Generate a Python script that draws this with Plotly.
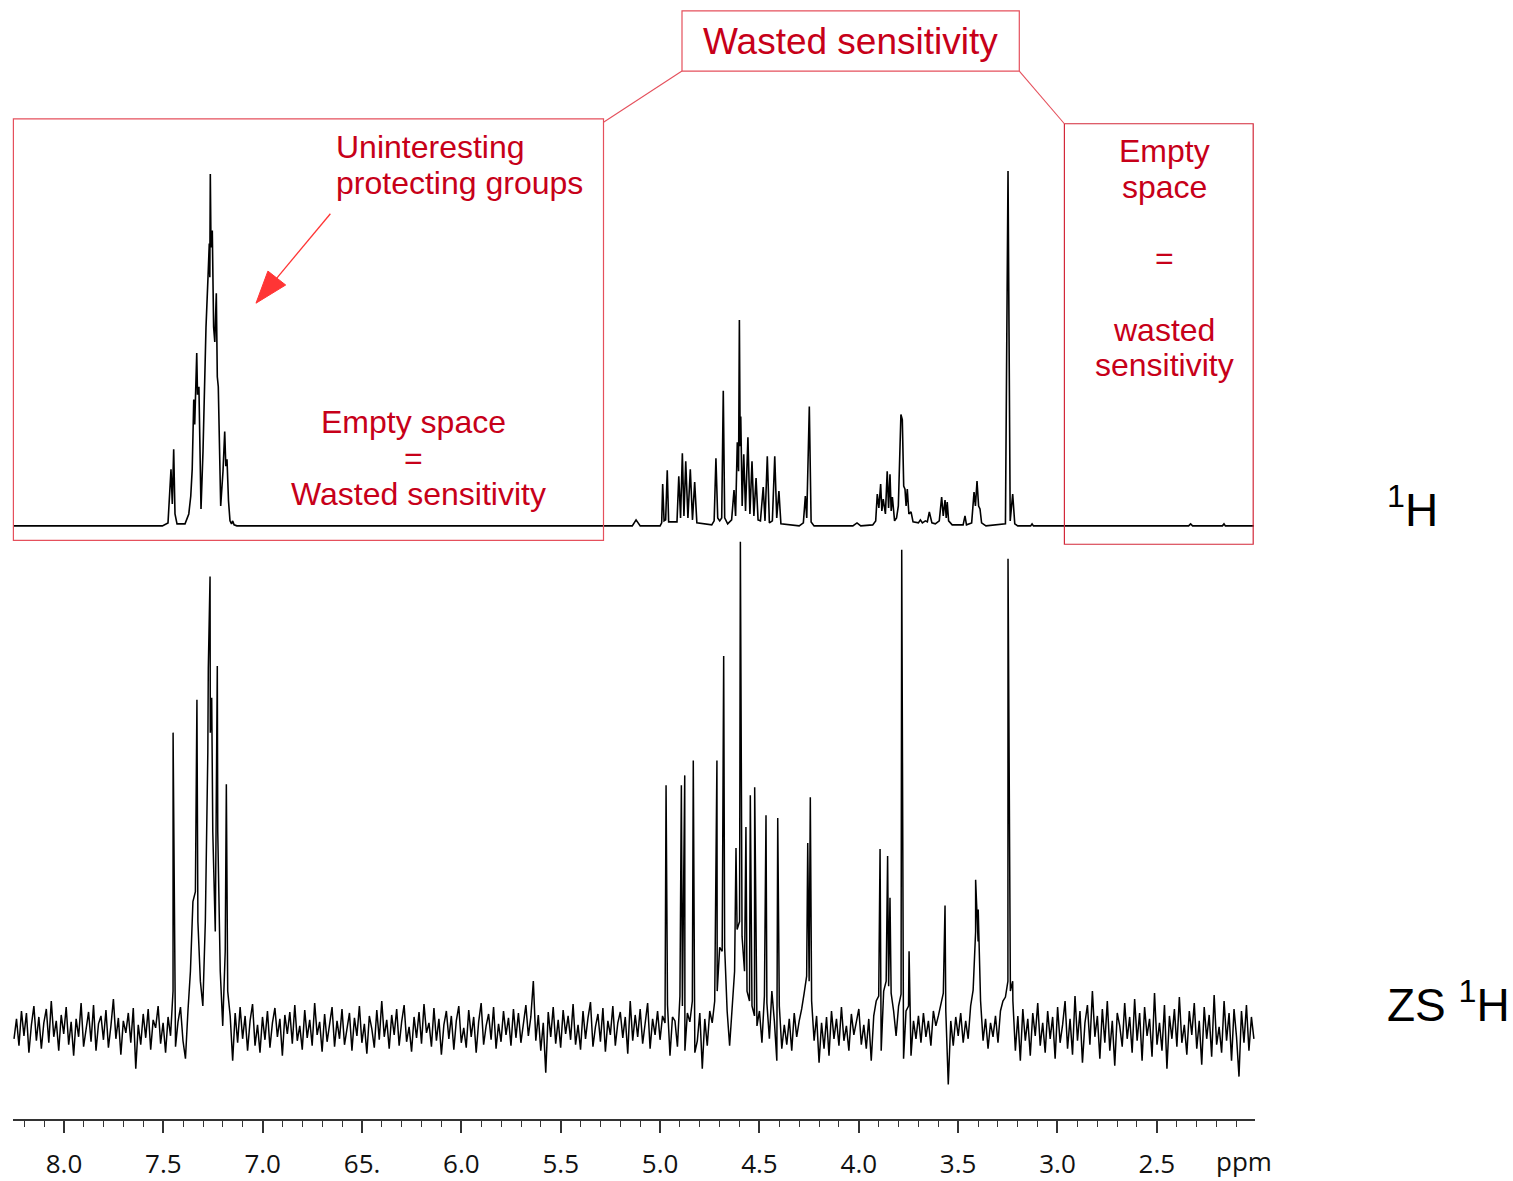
import numpy as np
import plotly.graph_objects as go

W, H = 1513, 1181

# ---------------- data ----------------
# 1H spectrum: line vertices (chemical shift in ppm, intensity)
h1_points = [
    (8.2516, 0), (7.505, 0), (7.4766, 3), (7.4615, 57), (7.455, 22), (7.448, 77), (7.4414, 12),
    (7.4313, 2), (7.391, 2), (7.372, 12), (7.362, 30), (7.3548, 57), (7.347, 127), (7.3422, 102),
    (7.332, 174), (7.3281, 132), (7.321, 140), (7.3155, 77), (7.3105, 17), (7.3004, 75),
    (7.2854, 200), (7.2753, 250), (7.2688, 284), (7.2662, 250), (7.2637, 354), (7.2602, 280),
    (7.2537, 297), (7.2471, 200), (7.2411, 185), (7.2335, 234), (7.2285, 150), (7.2235, 140),
    (7.2179, 75), (7.2114, 20), (7.1998, 55), (7.1912, 95), (7.1857, 60), (7.1797, 67),
    (7.1721, 25), (7.1646, 5), (7.157, 2), (7.151, 5), (7.144, 1), (7.13, 0),
    (5.14, 0), (5.121, 6), (5.10, 0),
    (5.00, 0), (4.992, 3), (4.987, 42), (4.980, 5), (4.972, 6), (4.964, 56), (4.957, 4),
    (4.915, 4), (4.906, 50), (4.897, 8), (4.888, 73), (4.880, 10), (4.871, 65), (4.860, 8),
    (4.848, 57), (4.837, 6), (4.826, 44), (4.815, 3), (4.740, 1), (4.728, 5), (4.719, 68),
    (4.710, 8), (4.700, 5), (4.690, 8), (4.682, 136), (4.675, 8), (4.660, 2), (4.640, 6),
    (4.628, 36), (4.620, 10), (4.6115, 84), (4.605, 55), (4.601, 207), (4.597, 80), (4.594, 110),
    (4.587, 20), (4.579, 72), (4.570, 15), (4.558, 89), (4.548, 12), (4.5375, 65), (4.528, 10),
    (4.517, 48), (4.507, 6), (4.495, 5), (4.481, 39), (4.472, 5), (4.4605, 70), (4.450, 3),
    (4.435, 5), (4.423, 70), (4.413, 8), (4.402, 35), (4.392, 2), (4.300, 0), (4.279, 3),
    (4.269, 30), (4.262, 8), (4.249, 120), (4.240, 4), (4.225, 0),
    (4.030, 0), (4.009, 3), (3.990, 0), (3.930, 1), (3.915, 5), (3.907, 32), (3.899, 18),
    (3.890, 42), (3.884, 15), (3.877, 27), (3.866, 12), (3.857, 55), (3.850, 18), (3.843, 52),
    (3.837, 15), (3.831, 29), (3.820, 5), (3.810, 8), (3.801, 20), (3.788, 112), (3.781, 107),
    (3.774, 40), (3.7675, 37), (3.762, 20), (3.756, 37), (3.748, 12), (3.737, 14), (3.727, 4),
    (3.700, 3), (3.690, 6), (3.680, 3), (3.665, 5), (3.655, 4), (3.645, 14), (3.632, 3),
    (3.615, 2), (3.595, 5), (3.583, 29), (3.575, 10), (3.566, 26), (3.560, 8), (3.555, 24),
    (3.548, 5), (3.530, 1), (3.475, 1), (3.4655, 10), (3.458, 1), (3.432, 3), (3.420, 34),
    (3.413, 20), (3.405, 45), (3.397, 20), (3.390, 17), (3.382, 3), (3.360, 0), (3.262, 2),
    (3.249, 357), (3.238, 5), (3.2255, 32), (3.215, 2), (3.200, 0), (3.135, 0), (3.128, 2),
    (3.121, 0), (2.34, 0), (2.33, 2), (2.32, 0), (2.17, 0), (2.162, 2), (2.155, 0), (2.0115, 0),
]

# ZS 1H spectrum: baseline samples (evenly spaced over the window, left to right)
zs_baseline = [
    -8, 12, -15, 20, -5, 18, -22, 6, 25, -10, 14, -18, 8, 22, -12, 30, -6, 10, -20, 16, -3, 24, -14, 9, -25,
    12, -6, 28, -16, 4, 19, -11, 26, -20, 7, 15, -9, 21, -17, 5, 32, -8, 13, -24, 10, -2, 18, -12, 23, -38,
    6, -14, 17, -7, 22, -19, 11, 3, 25, -13, 8, -22, 14, -5, 40, -16, 9, 24, -10, -28, 20, 60, 130, 140, 110,
    50, 25, 110, 280, 300, 200, 100, 200, 60, 5, 80, 40, 15, -30, 18, -12, 24, -8, 15, -20, 10, 27, -15, 6, -22,
    14, -9, 20, -17, 8, 23, -6, 12, -25, 16, -3, 19, -13, 26, -10, 5, -19, 21, -7, 11, -15, 28, -4, 9, -21,
    17, -11, 6, 24, -16, 10, -8, 22, -14, 3, 18, -20, 13, -5, 25, -12, 7, -23, 15, 2, -17, 21, -9, 30, -6,
    11, -18, 16, -4, 22, -15, 9, 26, -11, 4, -21, 14, -7, 19, -13, 27, -2, 8, -16, 23, -10, 12, -24, 6, 20,
    -8, 15, -19, 10, 25, -12, 3, -17, 21, -6, 14, -22, 9, 28, -14, 5, 17, -9, 24, -18, 7, -11, 20, -4, 13,
    -15, 22, -7, 18, -12, 9, 26, -5, 14, 50, -10, 16, -20, 8, -42, 19, -6, 24, -13, 11, -17, 21, -3, 15, -9,
    27, -14, 6, -19, 20, -8, 13, 29, -16, 4, 17, -11, 23, -21, 10, -4, 25, -15, 8, 19, -7, 14, -23, 30, -10,
    16, -6, 22, -13, 9, 28, -18, 12, -4, 20, -9, 15, 8, 26, -25, 14, 10, -16, 35, 25, -20, 18, 9, 30, -22,
    -10, 18, -38, 12, -15, 20, 8, 30, 40, 84, 80, 84, 20, -15, 20, 60, 102, 110, 95, 60, 40, 30, 25, 15, 5,
    20, -12, 35, 28, -8, 40, 10, -30, 25, -18, 6, -14, 12, -20, 18, -6, 10, 22, 38, 55, 50, 30, -10, 15, -32,
    8, -18, 14, -25, 20, -8, 12, -15, 24, -10, 5, -20, 17, -4, 10, 22, -14, 6, -18, 12, -30, 15, 30, 35, -20,
    40, 50, 45, 38, 20, -5, 25, 37, -28, 20, 25, -25, 10, -8, 15, -12, 18, -6, 10, -15, 20, 5, 15, 25, 38,
    20, -54, 10, -15, 14, -5, 18, -12, 10, -8, 25, 41, 100, 90, 30, -10, 12, -18, 8, -6, 15, -12, 20, 30, 34,
    50, 40, 30, -20, 15, -30, 22, -10, 12, -25, 18, -5, 28, -15, 8, -22, 20, -8, 14, -28, 24, -12, 6, 30, -18,
    12, -24, 35, -10, 20, -32, 8, 26, -14, 40, -6, 15, -28, 22, -12, 30, -20, 10, -35, 18, 5, -16, 28, -8, 14,
    -22, 32, -10, 18, -30, 24, -5, 12, -26, 38, -14, 8, -20, 26, -38, 15, -8, 22, -16, 34, -12, 6, -24, 20, -4,
    28, -18, 10, -34, 24, -8, 16, -26, 36, -14, 4, -22, 30, -10, 18, -30, 22, -6, -46, 20, -12, 26, -20, 14, -8,
]
ZS_WINDOW = (8.2516, 2.0115)

# ZS 1H spectrum: resolved singlets (ppm, intensity)
zs_peaks = [
    (7.451, 300), (7.331, 333), (7.2738, 365), (7.265, 457), (7.2567, 335), (7.2285, 367), (7.183, 248),
    (4.970, 247), (4.893, 247), (4.876, 257), (4.833, 272), (4.714, 272), (4.680, 377), (4.618, 184),
    (4.596, 492), (4.568, 205), (4.546, 237), (4.524, 245), (4.467, 217), (4.408, 214), (4.257, 189),
    (4.244, 235),
    (3.893, 183), (3.855, 176), (3.843, 134), (3.784, 484), (3.747, 80), (3.566, 126), (3.412, 152),
    (3.399, 122), (3.249, 475), (3.2255, 50),
]

tick_vals = [8.0, 7.5, 7.0, 6.5, 6.0, 5.5, 5.0, 4.5, 4.0, 3.5, 3.0, 2.5]
tick_text = ["8.0", "7.5", "7.0", "65.", "6.0", "5.5", "5.0", "4.5", "4.0", "3.5", "3.0", "2.5"]

# ---------------- styling ----------------
TEXT_RED = "#c70019"
BOX_RED = "#e5505c"
BOX_RED_DARK = "#d3283a"
ARROW_RED = "#ff3535"
TXT_FONT = "Liberation Sans, Arial, sans-serif"
AXIS_FONT = "Open Sans, Noto Sans, sans-serif"
TOP_OFFSET = 508          # vertical stacking offset of the 1H trace

# ---------------- traces ----------------
h1_x = [p for p, _ in h1_points]
h1_y = [v + TOP_OFFSET for _, v in h1_points]

zs_grid = np.linspace(ZS_WINDOW[0], ZS_WINDOW[1], len(zs_baseline))
zs_x = np.concatenate([zs_grid, [p for p, _ in zs_peaks]])
zs_y = np.concatenate([np.asarray(zs_baseline, float), [v for _, v in zs_peaks]])
order = np.argsort(-zs_x, kind="stable")
zs_x, zs_y = zs_x[order], zs_y[order]

fig = go.Figure()
fig.add_trace(go.Scatter(x=zs_x, y=zs_y, mode="lines",
                         line=dict(color="black", width=1.5), hoverinfo="skip"))
fig.add_trace(go.Scatter(x=h1_x, y=h1_y, mode="lines",
                         line=dict(color="black", width=1.6), hoverinfo="skip"))


def px(x):
    return x / W


def py(y):
    return 1 - y / H


shapes = []


def rect(x0, y0, x1, y1, color):
    shapes.append(dict(type="rect", xref="paper", yref="paper",
                       x0=px(x0), x1=px(x1), y0=py(y1), y1=py(y0),
                       line=dict(color=color, width=1.2), fillcolor="rgba(0,0,0,0)"))


def seg(x0, y0, x1, y1, color, width=1.1):
    shapes.append(dict(type="line", xref="paper", yref="paper",
                       x0=px(x0), y0=py(y0), x1=px(x1), y1=py(y1),
                       line=dict(color=color, width=width)))


rect(13.4, 119.5, 603.5, 543.5, BOX_RED)
rect(682, 11, 1019.3, 71.5, BOX_RED)
rect(1064.4, 124.5, 1253.2, 547.5, BOX_RED_DARK)
seg(603.5, 123, 682, 71.5, BOX_RED)
seg(1019.3, 71.5, 1064.4, 124.5, BOX_RED)

# arrow pointing at the aromatic multiplet
seg(330.4, 215, 276.8, 279.7, ARROW_RED, 1.3)
tri = [(256, 305), (285.7, 286.7), (267.9, 272.7)]
path = "M " + " L ".join(f"{px(a):.5f},{py(b):.5f}" for a, b in tri) + " Z"
shapes.append(dict(type="path", xref="paper", yref="paper", path=path,
                   fillcolor=ARROW_RED, line=dict(color=ARROW_RED, width=1)))

annotations = []


def label(text, x, y, size=32, color=TEXT_RED, xanchor="center", family=TXT_FONT):
    annotations.append(dict(text=text, xref="paper", yref="paper", x=px(x), y=py(y),
                            xanchor=xanchor, yanchor="middle", showarrow=False,
                            font=dict(family=family, size=size, color=color)))


label("Wasted sensitivity", 850, 42, size=37)
label("Uninteresting", 334, 148, xanchor="left")
label("protecting groups", 334, 184, xanchor="left")
label("Empty space", 414, 425)
label("=", 414, 461)
label("Wasted sensitivity", 418, 497)
for line_text, yy in [("Empty", 152), ("space", 188), ("=", 260), ("wasted", 332), ("sensitivity", 367)]:
    label(line_text, 1164, yy)

label("<sup>1</sup>H", 1385, 510, size=46, color="black", xanchor="left")
label("ZS <sup>1</sup>H", 1385, 1008, size=46, color="black", xanchor="left")
label("ppm", 1244, 1168, size=26, color="#111", family=AXIS_FONT)

fig.update_layout(
    width=W, height=H,
    margin=dict(l=0, r=0, t=0, b=0),
    paper_bgcolor="white", plot_bgcolor="white",
    showlegend=False,
    shapes=shapes, annotations=annotations,
    xaxis=dict(
        domain=[px(13), px(1255)],
        range=[8.2567, 2.0060],
        tickmode="array", tickvals=tick_vals, ticktext=tick_text,
        ticks="outside", ticklen=12, tickwidth=1.6, tickcolor="#333",
        ticklabelstandoff=8,
        showline=True, linecolor="#333", linewidth=2,
        showgrid=False, zeroline=False,
        tickfont=dict(family=AXIS_FONT, size=26, color="#111"),
        minor=dict(tickmode="linear", tick0=0, dtick=0.1, ticks="outside",
                   ticklen=6, tickwidth=1.4, tickcolor="#333", showgrid=False),
    ),
    yaxis=dict(domain=[55 / H, 1], range=[-89, 1037], visible=False,
               showgrid=False, zeroline=False),
)

fig.write_html("out.html", config={"displayModeBar": False})
